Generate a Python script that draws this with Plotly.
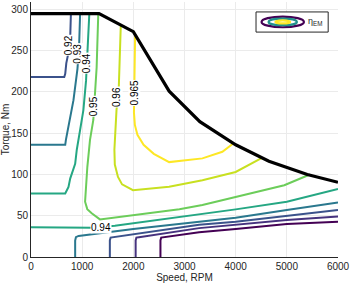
import plotly.graph_objects as go

# ---------------- data ----------------
env_speed = [0, 1330, 2000, 2700, 3300, 4000, 4650, 5400, 6000]
env_torque = [295, 295, 273, 201, 164, 136, 116, 100, 90.5]

levels = [0.90, 0.91, 0.92, 0.93, 0.94, 0.95, 0.96, 0.965]
level_colors = ["#440154", "#46327e", "#3b528b", "#2a788e", "#25a783", "#6ccd5a", "#c8e020", "#fde725"]

# 0.90
l090_speed = [2530, 2530, 2545, 2600, 3286, 4000, 5000, 6000]
l090_torque = [0, 20, 23.5, 24, 30, 34, 40, 42.7]
# 0.91
l091_speed = [2045, 2045, 2060, 2110, 3286, 4000, 5000, 6000]
l091_torque = [0, 20, 23.5, 24, 35, 38.7, 44.8, 49]
# 0.92 (low-torque branch)
l092a_speed = [1541, 1541, 1556, 1610, 3286, 4000, 5000, 6000]
l092a_torque = [0, 20, 23.5, 24, 39, 42.7, 49.6, 57]
# 0.92 (high-torque branch)
l092b_speed = [0, 650, 669, 690, 740, 766, 780]
l092b_torque = [218, 218, 222, 235, 250, 265, 295]
# 0.93 (low-torque branch)
l093a_speed = [863, 863, 878, 930, 2000, 3286, 4000, 5000, 6000]
l093a_torque = [0, 20, 24, 25.5, 34, 43, 47.6, 57, 66]
# 0.93 (high-torque branch)
l093b_speed = [0, 669, 682, 753, 830, 908, 940, 960]
l093b_torque = [136, 136, 142, 166, 190, 228, 255, 295]
# 0.94 (low-torque branch)
l094a_speed = [0, 900, 1200, 1640, 2123, 3286, 4000, 5000, 6000]
l094a_torque = [36, 35.5, 35.5, 38, 42, 51.7, 57.7, 67, 82.3]
# 0.94 (high-torque branch)
l094b_speed = [0, 669, 733, 766, 863, 895, 960, 1024, 1076, 1121, 1140]
l094b_torque = [77, 77, 85, 95, 113, 130, 154, 178, 214, 263, 295]
# 0.95
l095_speed = [1315, 1283, 1218, 1153, 1101, 1065, 1057, 1100, 1186, 1347, 2000, 2900, 3350, 4000, 4950, 5450]
l095_torque = [295, 230, 166, 142, 109, 80, 67, 58, 53, 45.6, 51, 58, 63, 73, 87, 100]
# 0.96
l096_speed = [1755, 1716, 1671, 1640, 1630, 1638, 1700, 1780, 1993, 2700, 3350, 4000, 4250, 4514]
l096_torque = [281, 206, 178, 150, 130, 112, 97, 88, 81, 85, 93, 103, 111, 120]
# 0.965
l0965_speed = [2035, 2026, 2015, 2012, 2030, 2080, 2200, 2400, 2700, 3350, 3740, 3940]
l0965_torque = [270, 230, 190, 175, 160, 148, 136, 125, 115, 119.5, 127.5, 137]

# contour labels: text, speed, torque, angle
label_text = ["0.92", "0.93", "0.94", "0.95", "0.96", "0.965", "0.94"]
label_speed = [733, 908, 1076, 1237, 1683, 2026, 1365]
label_torque = [256, 247, 235, 183, 194, 199, 36]
label_angle = [-90, -90, -90, -90, -90, -90, 0]

x_ticks = [0, 1000, 2000, 3000, 4000, 5000, 6000]
y_ticks = [0, 50, 100, 150, 200, 250, 300]

# ---------------- figure ----------------
fig = go.Figure()

lines = [
    (l090_speed, l090_torque, 0),
    (l091_speed, l091_torque, 1),
    (l092a_speed, l092a_torque, 2),
    (l092b_speed, l092b_torque, 2),
    (l093a_speed, l093a_torque, 3),
    (l093b_speed, l093b_torque, 3),
    (l094a_speed, l094a_torque, 4),
    (l094b_speed, l094b_torque, 4),
    (l095_speed, l095_torque, 5),
    (l096_speed, l096_torque, 6),
    (l0965_speed, l0965_torque, 7),
]
for xs, ys, li in lines:
    fig.add_trace(go.Scatter(x=xs, y=ys, mode="lines",
                             line=dict(color=level_colors[li], width=2),
                             hoverinfo="skip", showlegend=False))

fig.add_trace(go.Scatter(x=env_speed, y=env_torque, mode="lines",
                         line=dict(color="black", width=3.2),
                         hoverinfo="skip", showlegend=False))

for t, xs, ys, a in zip(label_text, label_speed, label_torque, label_angle):
    fig.add_annotation(x=xs, y=ys, text=t, showarrow=False, textangle=a,
                       font=dict(family="Liberation Sans", size=10, color="black"),
                       bgcolor="white", borderpad=0)

# legend box (drawn manually)
fig.add_shape(type="rect", xref="paper", yref="paper",
              x0=0.733, x1=0.968, y0=0.882, y1=0.961,
              line=dict(color="#262626", width=1), fillcolor="white")
cx, cy = 0.820, 0.922
for hw, hh, col in [(0.069, 0.021, "#440154"), (0.046, 0.013, "#21918c"), (0.024, 0.006, "#fde725")]:
    fig.add_shape(type="circle", xref="paper", yref="paper",
                  x0=cx - hw, x1=cx + hw, y0=cy - hh, y1=cy + hh,
                  line=dict(color=col, width=2.2))
fig.add_annotation(xref="paper", yref="paper", x=0.897, y=0.922, xanchor="left",
                   yanchor="middle", showarrow=False, text="η<sub>EM</sub>",
                   font=dict(family="Liberation Sans", size=9, color="#262626"))

axis_common = dict(showgrid=True, gridcolor="#ebebeb", gridwidth=1, zeroline=False,
                   showline=True, linecolor="#262626", linewidth=1, mirror=False,
                   ticks="", tickfont=dict(family="Liberation Sans", size=10, color="#262626"))

fig.update_layout(
    width=352, height=286,
    margin=dict(l=31, r=12, t=2, b=29),
    paper_bgcolor="white", plot_bgcolor="white",
    showlegend=False,
    xaxis=dict(range=[0, 6000], tickvals=x_ticks,
               title=dict(text="Speed, RPM", standoff=2,
                          font=dict(family="Liberation Sans", size=10, color="#262626")),
               **axis_common),
    yaxis=dict(range=[0, 309], tickvals=y_ticks,
               title=dict(text="Torque, Nm", standoff=2,
                          font=dict(family="Liberation Sans", size=10, color="#262626")),
               **axis_common),
)

fig.write_html("out.html", config={"displayModeBar": False},
               post_script="document.body.style.margin='0';document.body.style.padding='0';")
